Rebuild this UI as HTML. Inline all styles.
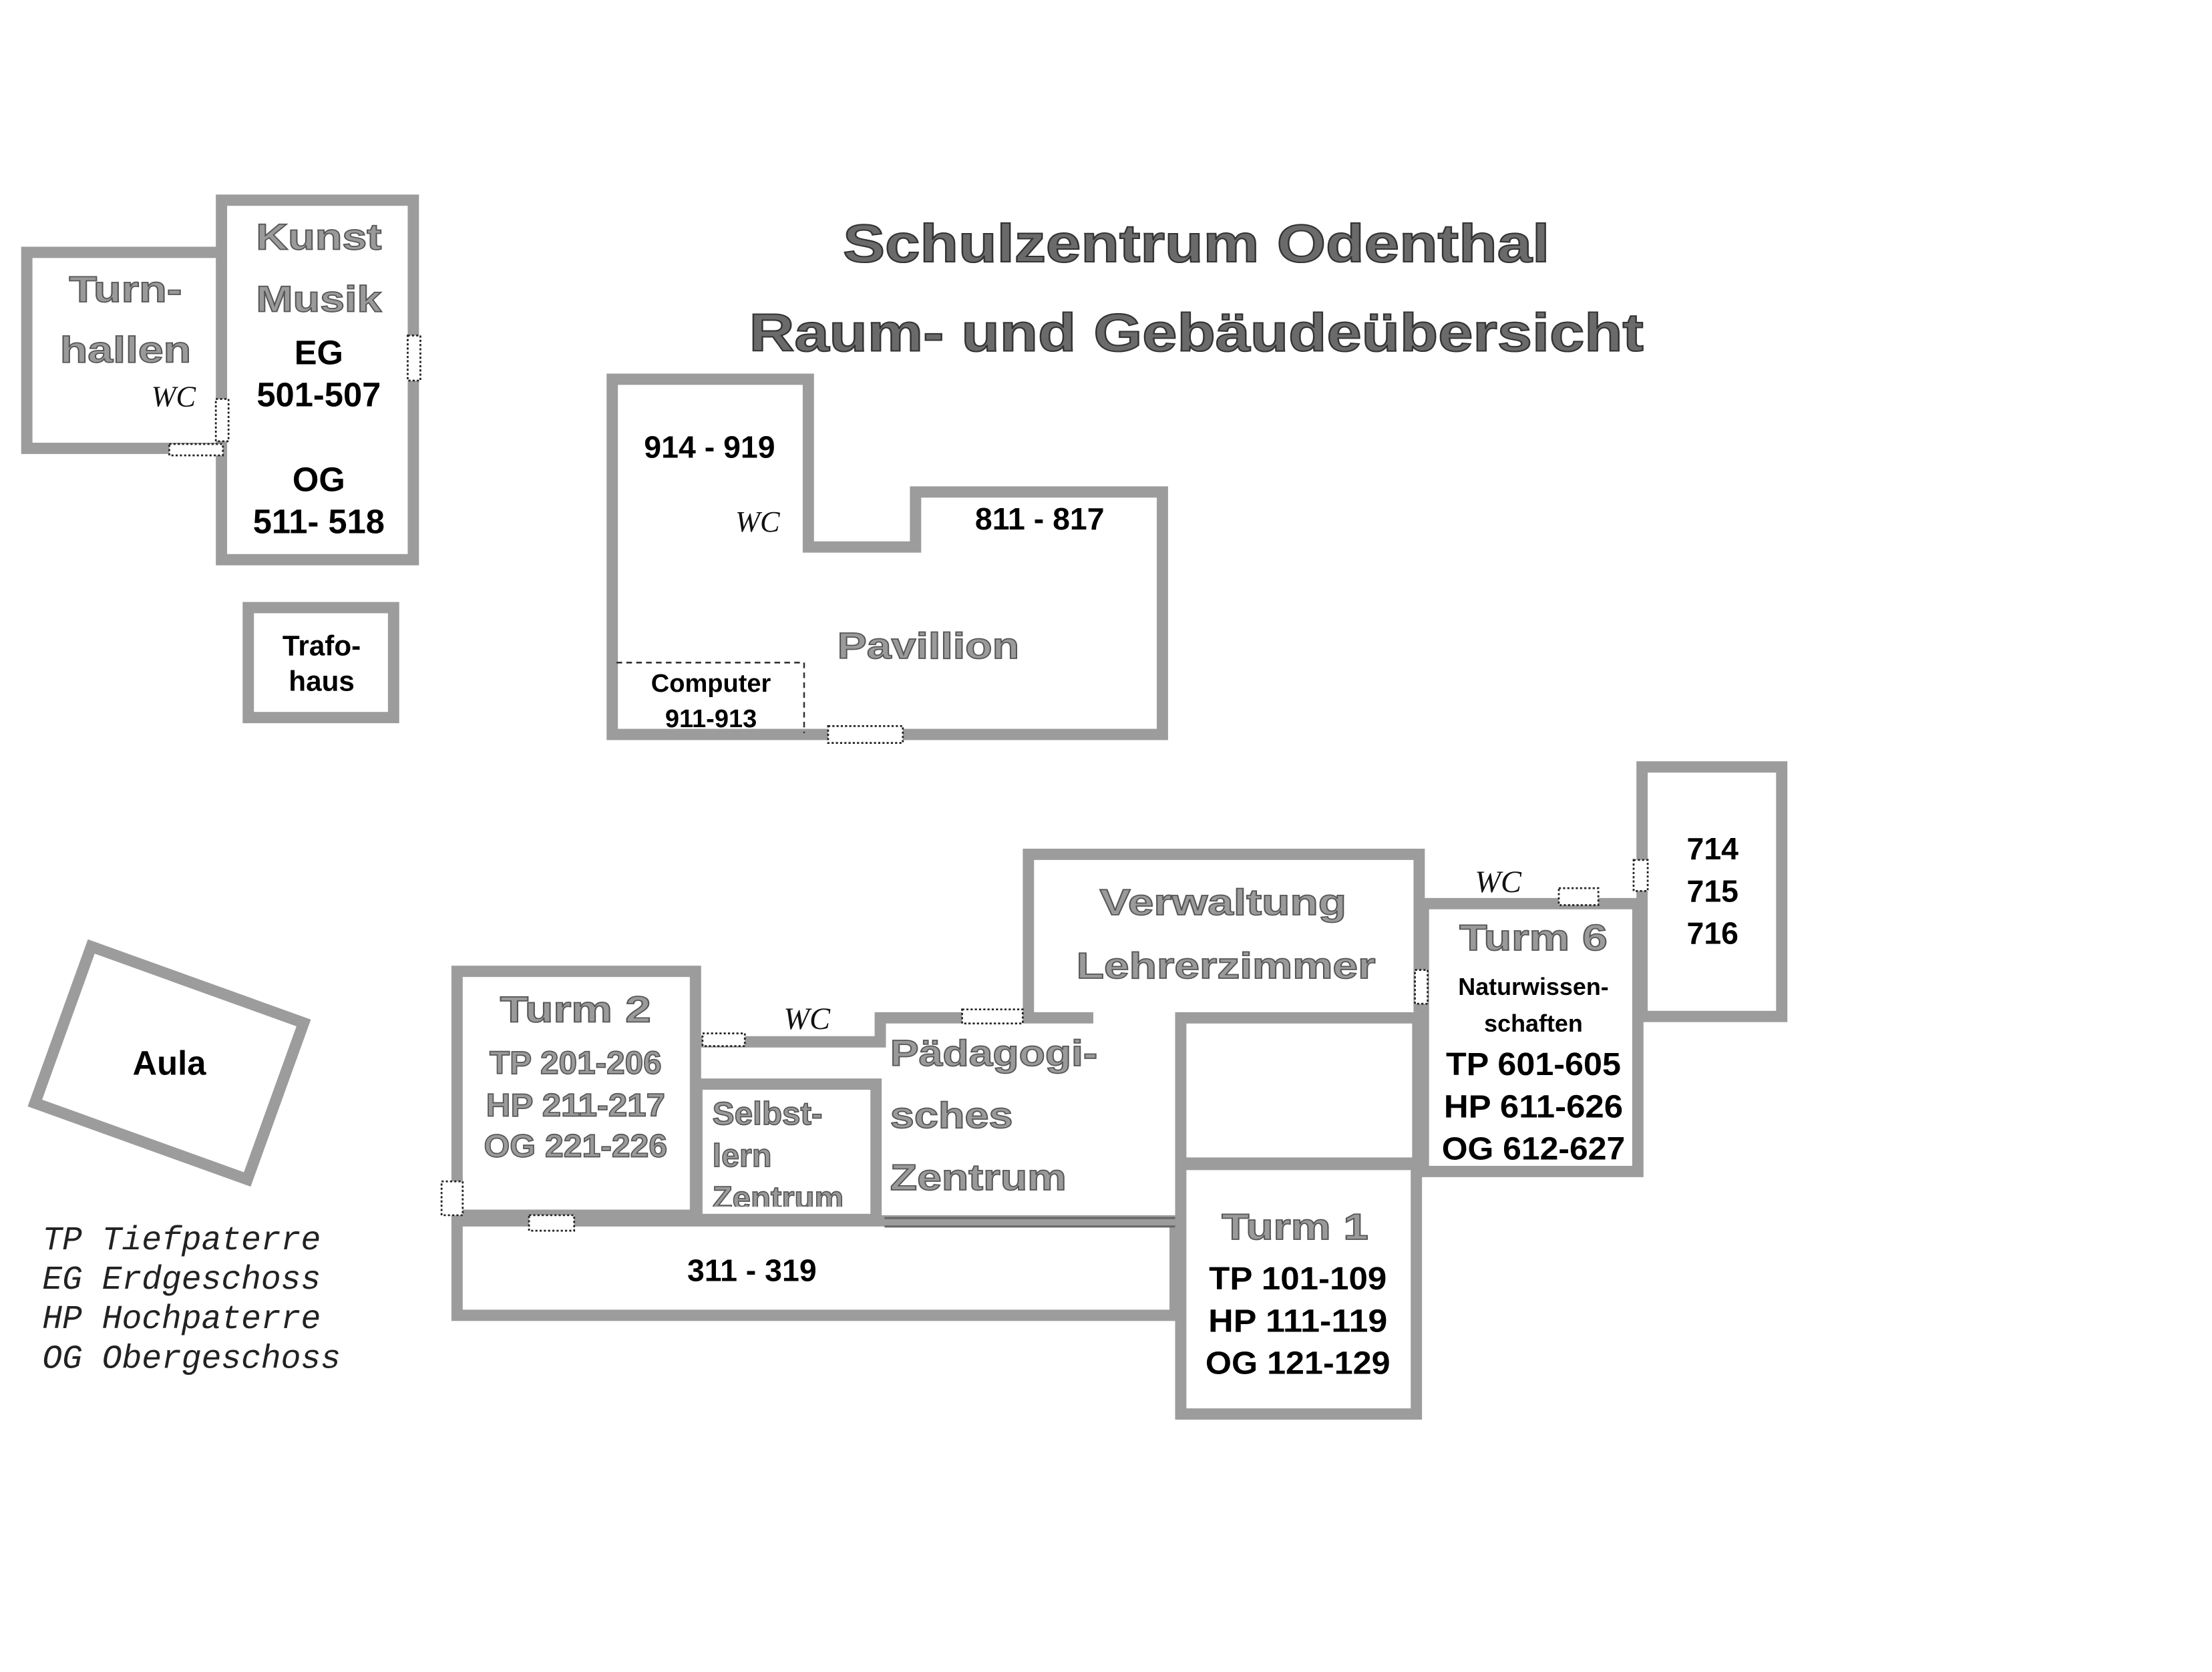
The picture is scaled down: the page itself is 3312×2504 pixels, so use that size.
<!DOCTYPE html>
<html><head><meta charset="utf-8"><style>
html,body{margin:0;padding:0;background:#fff}
svg{display:block}
.w{fill:none;stroke:#9c9c9c;stroke-width:8;stroke-linejoin:miter}
.d{fill:#fff;stroke:#222;stroke-width:1.3;stroke-dasharray:1.5 1.5}
text{font-family:"Liberation Sans",Arial,sans-serif;font-weight:bold;text-anchor:middle;dominant-baseline:central}
.g{fill:#9a9a9a;stroke:#555;stroke-width:0.8}
.k{fill:#000}
.wc{font-family:"Liberation Serif",serif;font-style:italic;font-weight:normal;fill:#111}
.lg{font-family:"Liberation Mono",monospace;font-style:italic;font-weight:normal;fill:#222;text-anchor:start;font-size:23.5px}
</style></head><body>
<svg width="3312" height="2504" viewBox="0 0 1568 1186" preserveAspectRatio="none">
<rect width="1568" height="1186" fill="#fff"/>
<text x="848" y="173" font-size="38" fill="#6a6a6a" stroke="#333" stroke-width="1" textLength="501" lengthAdjust="spacingAndGlyphs">Schulzentrum Odenthal</text>
<text x="848" y="236" font-size="38" fill="#6a6a6a" stroke="#333" stroke-width="1" textLength="634" lengthAdjust="spacingAndGlyphs">Raum- und Gebäudeübersicht</text>

<path class="w" d="M156 179 H19 V318 H156"/>
<rect class="w" x="157" y="142" width="136" height="255"/>
<rect class="w" x="176" y="431" width="103" height="78"/>
<rect class="d" x="289" y="238" width="9" height="32"/>
<rect class="d" x="153" y="283" width="9" height="30"/>
<rect class="d" x="120" y="315" width="38" height="8"/>
<text class="g" x="89" y="205" font-size="26" textLength="80" lengthAdjust="spacingAndGlyphs">Turn-</text>
<text class="g" x="89" y="248" font-size="26" textLength="93" lengthAdjust="spacingAndGlyphs">hallen</text>
<text class="wc" x="123" y="281" font-size="21">WC</text>
<text class="g" x="226" y="168" font-size="26" textLength="89" lengthAdjust="spacingAndGlyphs">Kunst</text>
<text class="g" x="226" y="212" font-size="26" textLength="89" lengthAdjust="spacingAndGlyphs">Musik</text>
<text class="k" x="226" y="250" font-size="24">EG</text>
<text class="k" x="226" y="280" font-size="24">501-507</text>
<text class="k" x="226" y="340" font-size="24">OG</text>
<text class="k" x="226" y="370" font-size="24">511- 518</text>
<text class="k" x="228" y="458" font-size="20">Trafo-</text>
<text class="k" x="228" y="483" font-size="20">haus</text>

<path class="w" d="M434 269 H573 V388 H649 V349 H824 V521 H434 Z"/>
<path d="M437 470 H570 V520" fill="none" stroke="#333" stroke-width="1.2" stroke-dasharray="4 3"/>
<rect class="d" x="587" y="515" width="53" height="12"/>
<text class="k" x="503" y="317" font-size="22">914 - 919</text>
<text class="wc" x="537" y="370" font-size="21">WC</text>
<text class="k" x="737" y="368" font-size="22">811 - 817</text>
<text class="g" x="658" y="458" font-size="26" textLength="129" lengthAdjust="spacingAndGlyphs">Pavillion</text>
<text class="k" x="504" y="485" font-size="18">Computer</text>
<text class="k" x="504" y="510" font-size="18">911-913</text>

<g transform="translate(120,754) rotate(19.8)">
<rect class="w" x="-80" y="-59" width="160" height="118"/>
<text class="k" x="0" y="0" font-size="24" transform="rotate(-19.8)">Aula</text>
</g>

<rect class="w" x="324" y="689" width="169" height="173"/>
<path class="w" d="M497 739 H624 V722 H775"/>
<rect class="w" x="494" y="769" width="127" height="96"/>
<rect class="w" x="324" y="866" width="509" height="67"/>
<path d="M627 864 H833 M627 870 H833" stroke="#666" stroke-width="1.5"/>
<path class="w" d="M729 722 V606 H1006 V718"/>
<rect class="w" x="837" y="722" width="168" height="103"/>
<rect class="w" x="837" y="826" width="167" height="177"/>
<path class="w" d="M1006 641 H1161 V831 H1009 V641"/>
<rect class="w" x="1164" y="544" width="99" height="177"/>
<rect class="d" x="498" y="733" width="30" height="9"/>
<rect class="d" x="682" y="716" width="43" height="10"/>
<rect class="d" x="1003" y="688" width="9" height="24"/>
<rect class="d" x="1105" y="630" width="28" height="12"/>
<rect class="d" x="1158" y="610" width="10" height="22"/>
<rect class="d" x="313" y="838" width="15" height="24"/>
<rect class="d" x="375" y="862" width="32" height="11"/>

<text class="g" x="408" y="716" font-size="26" textLength="107" lengthAdjust="spacingAndGlyphs">Turm 2</text>
<text class="g" x="408" y="754" font-size="23" textLength="122" lengthAdjust="spacingAndGlyphs">TP 201-206</text>
<text class="g" x="408" y="784" font-size="23" textLength="127" lengthAdjust="spacingAndGlyphs">HP 211-217</text>
<text class="g" x="408" y="813" font-size="23" textLength="130" lengthAdjust="spacingAndGlyphs">OG 221-226</text>
<text class="wc" x="572" y="723" font-size="22">WC</text>
<text class="g" x="505" y="790" font-size="23" style="text-anchor:start" textLength="78" lengthAdjust="spacingAndGlyphs">Selbst-</text>
<text class="g" x="505" y="820" font-size="23" style="text-anchor:start" textLength="42" lengthAdjust="spacingAndGlyphs">lern</text>
<svg x="495" y="830" width="122" height="26" overflow="hidden"><text class="g" x="10" y="20" font-size="23" style="text-anchor:start" textLength="93" lengthAdjust="spacingAndGlyphs">Zentrum</text></svg>
<text class="g" x="631" y="747" font-size="26" style="text-anchor:start" textLength="147" lengthAdjust="spacingAndGlyphs">Pädagogi-</text>
<text class="g" x="631" y="791" font-size="26" style="text-anchor:start" textLength="87" lengthAdjust="spacingAndGlyphs">sches</text>
<text class="g" x="631" y="835" font-size="26" style="text-anchor:start" textLength="125" lengthAdjust="spacingAndGlyphs">Zentrum</text>
<text class="k" x="533" y="901" font-size="22">311 - 319</text>
<text class="g" x="867" y="640" font-size="26" textLength="175" lengthAdjust="spacingAndGlyphs">Verwaltung</text>
<text class="g" x="869" y="685" font-size="26" textLength="212" lengthAdjust="spacingAndGlyphs">Lehrerzimmer</text>
<text class="g" x="918" y="870" font-size="26" textLength="104" lengthAdjust="spacingAndGlyphs">Turm 1</text>
<text class="k" x="920" y="907" font-size="23" textLength="126" lengthAdjust="spacingAndGlyphs">TP 101-109</text>
<text class="k" x="920" y="937" font-size="23" textLength="127" lengthAdjust="spacingAndGlyphs">HP 111-119</text>
<text class="k" x="920" y="967" font-size="23" textLength="131" lengthAdjust="spacingAndGlyphs">OG 121-129</text>
<text class="wc" x="1062" y="626" font-size="22">WC</text>
<text class="g" x="1087" y="665" font-size="26" textLength="105" lengthAdjust="spacingAndGlyphs">Turm 6</text>
<text class="k" x="1087" y="700" font-size="17">Naturwissen-</text>
<text class="k" x="1087" y="726" font-size="17">schaften</text>
<text class="k" x="1087" y="755" font-size="23" textLength="124" lengthAdjust="spacingAndGlyphs">TP 601-605</text>
<text class="k" x="1087" y="785" font-size="23" textLength="127" lengthAdjust="spacingAndGlyphs">HP 611-626</text>
<text class="k" x="1087" y="815" font-size="23" textLength="130" lengthAdjust="spacingAndGlyphs">OG 612-627</text>
<text class="k" x="1214" y="602" font-size="22">714</text>
<text class="k" x="1214" y="632" font-size="22">715</text>
<text class="k" x="1214" y="662" font-size="22">716</text>

<text class="lg" x="30" y="880">TP Tiefpaterre</text>
<text class="lg" x="30" y="908">EG Erdgeschoss</text>
<text class="lg" x="30" y="936">HP Hochpaterre</text>
<text class="lg" x="30" y="964">OG Obergeschoss</text>
</svg>
</body></html>
